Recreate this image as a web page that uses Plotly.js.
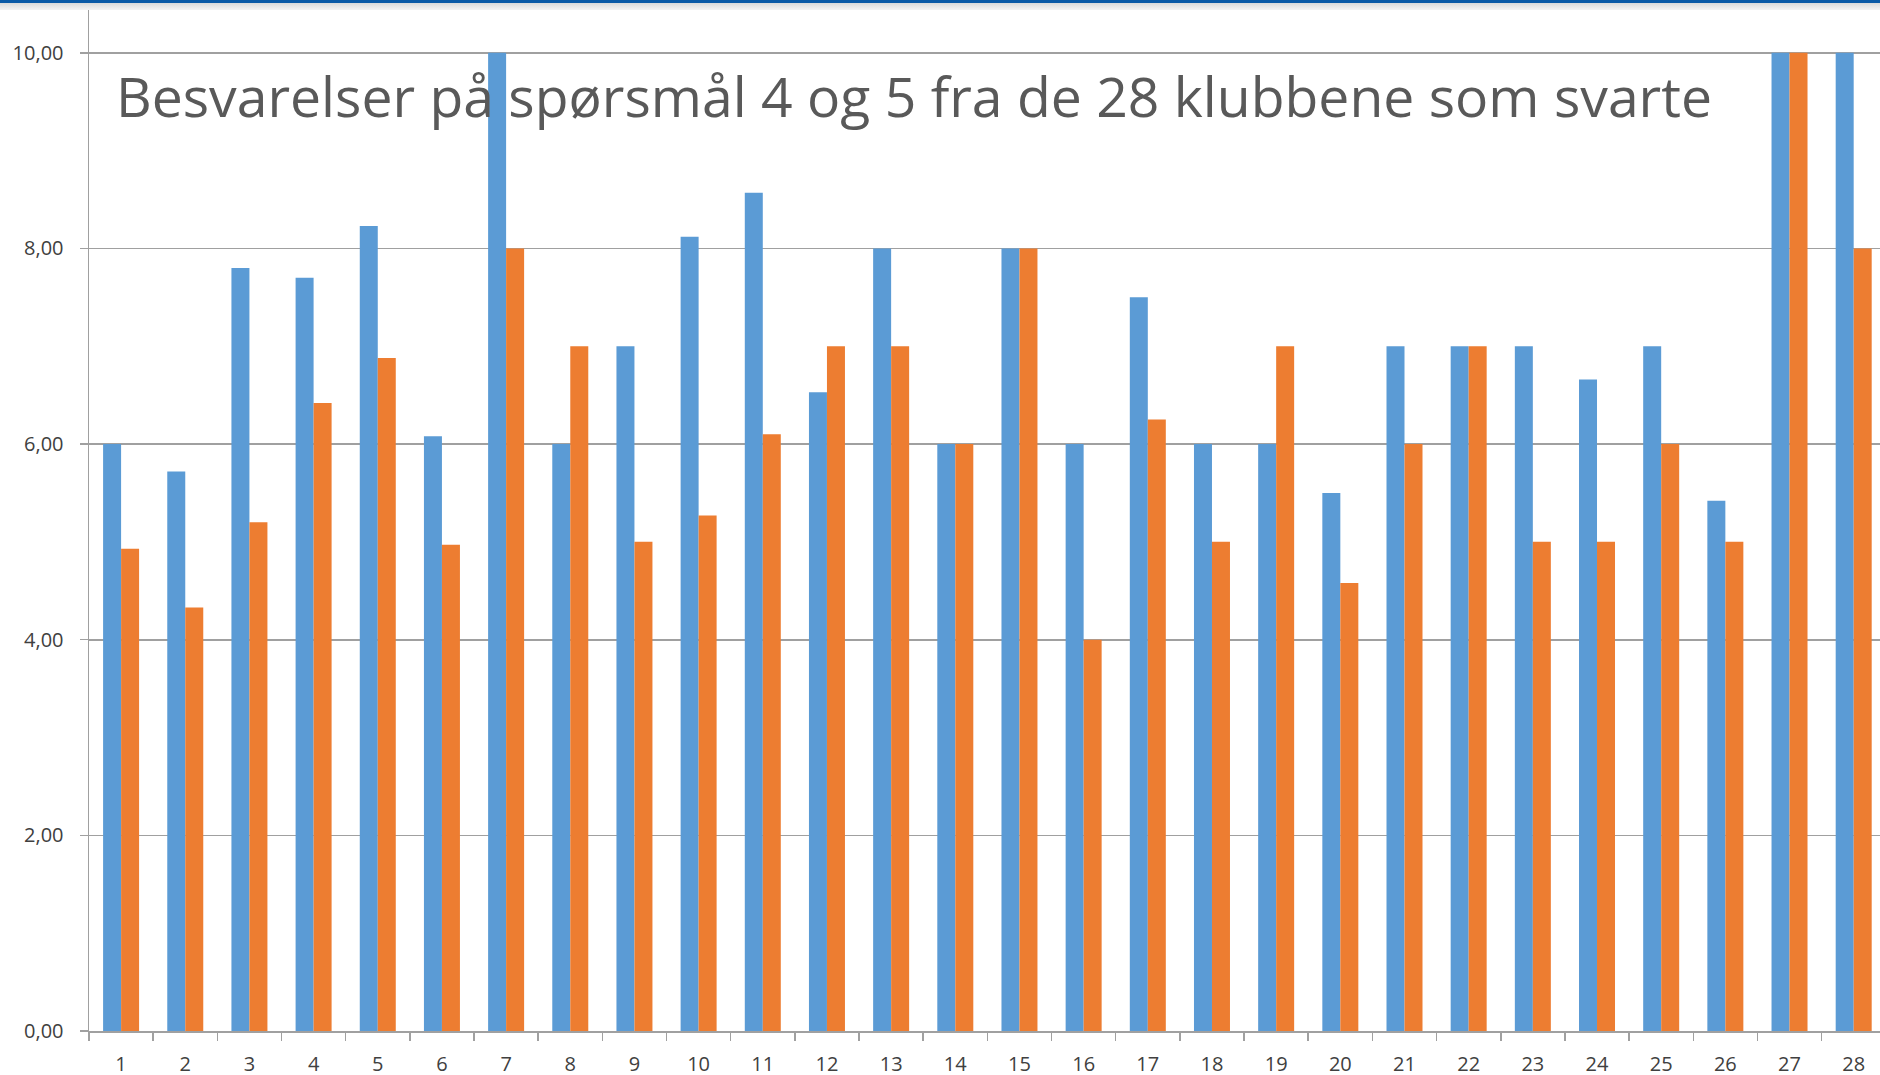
<!DOCTYPE html>
<html>
<head>
<meta charset="utf-8">
<script src="https://cdn.plot.ly/plotly-3.0.1.min.js"></script>
<style>
  html, body { margin: 0; padding: 0; background: #ffffff; overflow: hidden; }
  #topbar { position: absolute; left: 0; top: 0; width: 1880px; height: 3px; background: #0b5aa6; z-index: 2; }
  #topshade { position: absolute; left: 0; top: 3px; width: 1880px; height: 7px; background: linear-gradient(#d9d9d9, #f4f4f4); z-index: 2; }
  #chart { width: 1880px; height: 1075px; }
</style>
</head>
<body>
<div id="topbar"></div>
<div id="topshade"></div>
<div id="chart"></div>
<script>
const categories = ["1","2","3","4","5","6","7","8","9","10","11","12","13","14","15","16","17","18","19","20","21","22","23","24","25","26","27","28"];
const question4 = [6.00, 5.72, 7.80, 7.70, 8.23, 6.08, 10.00, 6.00, 7.00, 8.12, 8.57, 6.53, 8.00, 6.00, 8.00, 6.00, 7.50, 6.00, 6.00, 5.50, 7.00, 7.00, 7.00, 6.66, 7.00, 5.42, 10.00, 10.00];
const question5 = [4.93, 4.33, 5.20, 6.42, 6.88, 4.97, 8.00, 7.00, 5.00, 5.27, 6.10, 7.00, 7.00, 6.00, 8.00, 4.00, 6.25, 5.00, 7.00, 4.58, 6.00, 7.00, 5.00, 5.00, 6.00, 5.00, 10.00, 8.00];
const yTicks = [0, 2, 4, 6, 8, 10];
const titleText = "Besvarelser på spørsmål 4 og 5 fra de 28 klubbene som svarte";

const traces = [
  { type: 'bar', name: 'Spørsmål 4', x: categories, y: question4,
    marker: { color: '#5b9bd5', line: { width: 0 } } },
  { type: 'bar', name: 'Spørsmål 5', x: categories, y: question5,
    marker: { color: '#ed7d31', line: { width: 0 } } }
];

const layout = {
  width: 1880, height: 1075,
  margin: { l: 89, r: 0, t: 10, b: 44.3, pad: 0 },
  paper_bgcolor: '#ffffff', plot_bgcolor: '#ffffff',
  showlegend: false,
  barmode: 'group', bargap: 0.439, bargroupgap: 0,
  separators: ', ',
  font: { family: 'Open Sans, sans-serif', color: '#404040' },
  xaxis: {
    type: 'category',
    range: [-0.5, 27.41],
    showgrid: false,
    showline: true, linecolor: '#a0a0a0', linewidth: 1.5,
    ticks: 'outside', tickson: 'boundaries', ticklen: 8, tickcolor: '#a0a0a0', tickwidth: 1.5,
    tickfont: { family: 'Open Sans, sans-serif', size: 20, color: '#404040' },
    ticklabelstandoff: 14,
    zeroline: false, fixedrange: true
  },
  yaxis: {
    range: [0, 10.437],
    tickvals: yTicks,
    tickformat: '.2f',
    showgrid: true, gridcolor: '#a0a0a0', gridwidth: 1.6,
    showline: true, linecolor: '#a0a0a0', linewidth: 1.5,
    zeroline: false,
    ticks: 'outside', ticklen: 8, tickcolor: '#a0a0a0', tickwidth: 1.5,
    tickfont: { family: 'Open Sans, sans-serif', size: 20, color: '#404040' },
    ticklabelstandoff: 12,
    fixedrange: true
  },
  annotations: [{
    text: titleText,
    xref: 'paper', yref: 'paper',
    x: 0.0142, y: 0.9165,
    xanchor: 'left', yanchor: 'middle',
    showarrow: false,
    font: { family: 'Open Sans, sans-serif', size: 55.3, color: '#595959' }
  }]
};

Plotly.newPlot('chart', traces, layout, { displayModeBar: false, staticPlot: true });
</script>
</body>
</html>
